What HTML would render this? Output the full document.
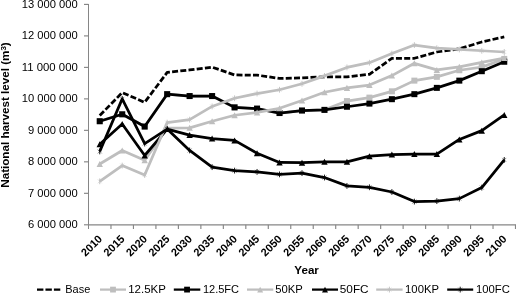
<!DOCTYPE html>
<html><head><meta charset="utf-8"><style>
html,body{margin:0;padding:0;background:#fff;}
body{width:516px;height:293px;overflow:hidden;}
svg{display:block;will-change:transform;}
text{font-family:"Liberation Sans",sans-serif;fill:#000;}
.yl{font-size:11px;}
.xl{font-size:11px;font-weight:bold;}
.t{font-size:11px;font-weight:bold;}
.lg{font-size:11px;}
</style></head><body>
<svg width="516" height="293" viewBox="0 0 516 293">
<g stroke="#868686" fill="none">
<line x1="88.5" y1="3.92" x2="88.5" y2="229" stroke-width="1" shape-rendering="crispEdges"/>
<line x1="84" y1="224.80" x2="88.5" y2="224.80" stroke-width="1.15"/>
<line x1="84" y1="193.32" x2="88.5" y2="193.32" stroke-width="1.15"/>
<line x1="84" y1="161.83" x2="88.5" y2="161.83" stroke-width="1.15"/>
<line x1="84" y1="130.35" x2="88.5" y2="130.35" stroke-width="1.15"/>
<line x1="84" y1="98.87" x2="88.5" y2="98.87" stroke-width="1.15"/>
<line x1="84" y1="67.39" x2="88.5" y2="67.39" stroke-width="1.15"/>
<line x1="84" y1="35.90" x2="88.5" y2="35.90" stroke-width="1.15"/>
<line x1="84" y1="4.42" x2="88.5" y2="4.42" stroke-width="1.15"/>
<line x1="88.5" y1="224.80" x2="516.0" y2="224.80" stroke-width="1.3"/>
<line x1="110.97" y1="224.80" x2="110.97" y2="229" stroke-width="1.15"/>
<line x1="133.45" y1="224.80" x2="133.45" y2="229" stroke-width="1.15"/>
<line x1="155.92" y1="224.80" x2="155.92" y2="229" stroke-width="1.15"/>
<line x1="178.39" y1="224.80" x2="178.39" y2="229" stroke-width="1.15"/>
<line x1="200.87" y1="224.80" x2="200.87" y2="229" stroke-width="1.15"/>
<line x1="223.34" y1="224.80" x2="223.34" y2="229" stroke-width="1.15"/>
<line x1="245.82" y1="224.80" x2="245.82" y2="229" stroke-width="1.15"/>
<line x1="268.29" y1="224.80" x2="268.29" y2="229" stroke-width="1.15"/>
<line x1="290.76" y1="224.80" x2="290.76" y2="229" stroke-width="1.15"/>
<line x1="313.24" y1="224.80" x2="313.24" y2="229" stroke-width="1.15"/>
<line x1="335.71" y1="224.80" x2="335.71" y2="229" stroke-width="1.15"/>
<line x1="358.18" y1="224.80" x2="358.18" y2="229" stroke-width="1.15"/>
<line x1="380.66" y1="224.80" x2="380.66" y2="229" stroke-width="1.15"/>
<line x1="403.13" y1="224.80" x2="403.13" y2="229" stroke-width="1.15"/>
<line x1="425.61" y1="224.80" x2="425.61" y2="229" stroke-width="1.15"/>
<line x1="448.08" y1="224.80" x2="448.08" y2="229" stroke-width="1.15"/>
<line x1="470.55" y1="224.80" x2="470.55" y2="229" stroke-width="1.15"/>
<line x1="493.03" y1="224.80" x2="493.03" y2="229" stroke-width="1.15"/>
<line x1="515.50" y1="224.80" x2="515.50" y2="229" stroke-width="1.15"/>
</g>
<text x="77.8" y="228.48" text-anchor="end" class="yl" textLength="49.8" lengthAdjust="spacingAndGlyphs">6 000 000</text>
<text x="77.8" y="196.94" text-anchor="end" class="yl" textLength="49.8" lengthAdjust="spacingAndGlyphs">7 000 000</text>
<text x="77.8" y="165.40" text-anchor="end" class="yl" textLength="49.8" lengthAdjust="spacingAndGlyphs">8 000 000</text>
<text x="77.8" y="133.86" text-anchor="end" class="yl" textLength="49.8" lengthAdjust="spacingAndGlyphs">9 000 000</text>
<text x="77.8" y="102.32" text-anchor="end" class="yl" textLength="56" lengthAdjust="spacingAndGlyphs">10 000 000</text>
<text x="77.8" y="70.78" text-anchor="end" class="yl" textLength="56" lengthAdjust="spacingAndGlyphs">11 000 000</text>
<text x="77.8" y="39.24" text-anchor="end" class="yl" textLength="56" lengthAdjust="spacingAndGlyphs">12 000 000</text>
<text x="77.8" y="7.70" text-anchor="end" class="yl" textLength="56" lengthAdjust="spacingAndGlyphs">13 000 000</text>
<text transform="translate(97.94,234.7) rotate(-45)" text-anchor="end" class="xl" x="0" y="7">2010</text>
<text transform="translate(120.41,234.7) rotate(-45)" text-anchor="end" class="xl" x="0" y="7">2015</text>
<text transform="translate(142.88,234.7) rotate(-45)" text-anchor="end" class="xl" x="0" y="7">2020</text>
<text transform="translate(165.36,234.7) rotate(-45)" text-anchor="end" class="xl" x="0" y="7">2025</text>
<text transform="translate(187.83,234.7) rotate(-45)" text-anchor="end" class="xl" x="0" y="7">2030</text>
<text transform="translate(210.31,234.7) rotate(-45)" text-anchor="end" class="xl" x="0" y="7">2035</text>
<text transform="translate(232.78,234.7) rotate(-45)" text-anchor="end" class="xl" x="0" y="7">2040</text>
<text transform="translate(255.25,234.7) rotate(-45)" text-anchor="end" class="xl" x="0" y="7">2045</text>
<text transform="translate(277.73,234.7) rotate(-45)" text-anchor="end" class="xl" x="0" y="7">2050</text>
<text transform="translate(300.20,234.7) rotate(-45)" text-anchor="end" class="xl" x="0" y="7">2055</text>
<text transform="translate(322.67,234.7) rotate(-45)" text-anchor="end" class="xl" x="0" y="7">2060</text>
<text transform="translate(345.15,234.7) rotate(-45)" text-anchor="end" class="xl" x="0" y="7">2065</text>
<text transform="translate(367.62,234.7) rotate(-45)" text-anchor="end" class="xl" x="0" y="7">2070</text>
<text transform="translate(390.09,234.7) rotate(-45)" text-anchor="end" class="xl" x="0" y="7">2075</text>
<text transform="translate(412.57,234.7) rotate(-45)" text-anchor="end" class="xl" x="0" y="7">2080</text>
<text transform="translate(435.04,234.7) rotate(-45)" text-anchor="end" class="xl" x="0" y="7">2085</text>
<text transform="translate(457.52,234.7) rotate(-45)" text-anchor="end" class="xl" x="0" y="7">2090</text>
<text transform="translate(479.99,234.7) rotate(-45)" text-anchor="end" class="xl" x="0" y="7">2095</text>
<text transform="translate(502.46,234.7) rotate(-45)" text-anchor="end" class="xl" x="0" y="7">2100</text>
<polyline points="99.74,115.55 122.21,92.59 144.68,102.34 167.16,72.45 189.63,69.94 212.11,67.11 234.58,74.97 257.05,75.13 279.53,78.43 302.00,77.80 324.47,76.86 346.95,76.86 369.42,74.34 391.89,58.30 414.37,58.30 436.84,52.00 459.32,48.86 481.79,41.94 504.26,36.90" fill="none" stroke="#000" stroke-width="2.75" stroke-linejoin="round" stroke-dasharray="6 2.25" stroke-dashoffset="0"/>
<polyline points="99.74,121.22 122.21,114.30 144.68,126.56 167.16,94.16 189.63,96.05 212.11,96.05 234.58,107.37 257.05,108.63 279.53,113.04 302.00,110.52 324.47,109.89 346.95,101.08 369.42,97.62 391.89,91.33 414.37,80.63 436.84,76.86 459.32,70.25 481.79,67.11 504.26,58.93" fill="none" stroke="#bebebe" stroke-width="2.75" stroke-linejoin="round"/><rect x="96.74" y="118.22" width="6" height="6" fill="#bebebe"/><rect x="119.21" y="111.30" width="6" height="6" fill="#bebebe"/><rect x="141.68" y="123.56" width="6" height="6" fill="#bebebe"/><rect x="164.16" y="91.16" width="6" height="6" fill="#bebebe"/><rect x="186.63" y="93.05" width="6" height="6" fill="#bebebe"/><rect x="209.11" y="93.05" width="6" height="6" fill="#bebebe"/><rect x="231.58" y="104.37" width="6" height="6" fill="#bebebe"/><rect x="254.05" y="105.63" width="6" height="6" fill="#bebebe"/><rect x="276.53" y="110.04" width="6" height="6" fill="#bebebe"/><rect x="299.00" y="107.52" width="6" height="6" fill="#bebebe"/><rect x="321.47" y="106.89" width="6" height="6" fill="#bebebe"/><rect x="343.95" y="98.08" width="6" height="6" fill="#bebebe"/><rect x="366.42" y="94.62" width="6" height="6" fill="#bebebe"/><rect x="388.89" y="88.33" width="6" height="6" fill="#bebebe"/><rect x="411.37" y="77.63" width="6" height="6" fill="#bebebe"/><rect x="433.84" y="73.86" width="6" height="6" fill="#bebebe"/><rect x="456.32" y="67.25" width="6" height="6" fill="#bebebe"/><rect x="478.79" y="64.11" width="6" height="6" fill="#bebebe"/><rect x="501.26" y="55.93" width="6" height="6" fill="#bebebe"/>
<polyline points="99.74,121.22 122.21,114.30 144.68,126.56 167.16,94.16 189.63,96.05 212.11,96.05 234.58,107.37 257.05,108.63 279.53,113.04 302.00,110.52 324.47,109.89 346.95,106.75 369.42,103.60 391.89,99.19 414.37,94.16 436.84,87.87 459.32,80.63 481.79,71.20 504.26,61.76" fill="none" stroke="#000" stroke-width="2.75" stroke-linejoin="round"/><rect x="96.74" y="118.22" width="6" height="6" fill="#000"/><rect x="119.21" y="111.30" width="6" height="6" fill="#000"/><rect x="141.68" y="123.56" width="6" height="6" fill="#000"/><rect x="164.16" y="91.16" width="6" height="6" fill="#000"/><rect x="186.63" y="93.05" width="6" height="6" fill="#000"/><rect x="209.11" y="93.05" width="6" height="6" fill="#000"/><rect x="231.58" y="104.37" width="6" height="6" fill="#000"/><rect x="254.05" y="105.63" width="6" height="6" fill="#000"/><rect x="276.53" y="110.04" width="6" height="6" fill="#000"/><rect x="299.00" y="107.52" width="6" height="6" fill="#000"/><rect x="321.47" y="106.89" width="6" height="6" fill="#000"/><rect x="343.95" y="103.75" width="6" height="6" fill="#000"/><rect x="366.42" y="100.60" width="6" height="6" fill="#000"/><rect x="388.89" y="96.19" width="6" height="6" fill="#000"/><rect x="411.37" y="91.16" width="6" height="6" fill="#000"/><rect x="433.84" y="84.87" width="6" height="6" fill="#000"/><rect x="456.32" y="77.63" width="6" height="6" fill="#000"/><rect x="478.79" y="68.20" width="6" height="6" fill="#000"/><rect x="501.26" y="58.76" width="6" height="6" fill="#000"/>
<polyline points="99.74,164.00 122.21,150.47 144.68,160.23 167.16,128.14 189.63,127.82 212.11,121.22 234.58,115.24 257.05,112.41 279.53,108.32 302.00,100.45 324.47,92.27 346.95,87.87 369.42,85.04 391.89,75.60 414.37,63.33 436.84,69.94 459.32,66.79 481.79,62.39 504.26,57.98" fill="none" stroke="#bebebe" stroke-width="2.75" stroke-linejoin="round"/><path d="M99.74,160.99L102.94,167.01L96.54,167.01Z" fill="#bebebe"/><path d="M122.21,147.47L125.41,153.48L119.01,153.48Z" fill="#bebebe"/><path d="M144.68,157.22L147.88,163.23L141.48,163.23Z" fill="#bebebe"/><path d="M167.16,125.13L170.36,131.15L163.96,131.15Z" fill="#bebebe"/><path d="M189.63,124.82L192.83,130.83L186.43,130.83Z" fill="#bebebe"/><path d="M212.11,118.21L215.31,124.22L208.91,124.22Z" fill="#bebebe"/><path d="M234.58,112.23L237.78,118.25L231.38,118.25Z" fill="#bebebe"/><path d="M257.05,109.40L260.25,115.42L253.85,115.42Z" fill="#bebebe"/><path d="M279.53,105.31L282.73,111.33L276.33,111.33Z" fill="#bebebe"/><path d="M302.00,97.45L305.20,103.46L298.80,103.46Z" fill="#bebebe"/><path d="M324.47,89.27L327.67,95.28L321.27,95.28Z" fill="#bebebe"/><path d="M346.95,84.86L350.15,90.88L343.75,90.88Z" fill="#bebebe"/><path d="M369.42,82.03L372.62,88.05L366.22,88.05Z" fill="#bebebe"/><path d="M391.89,72.59L395.09,78.61L388.69,78.61Z" fill="#bebebe"/><path d="M414.37,60.32L417.57,66.34L411.17,66.34Z" fill="#bebebe"/><path d="M436.84,66.93L440.04,72.94L433.64,72.94Z" fill="#bebebe"/><path d="M459.32,63.78L462.52,69.80L456.12,69.80Z" fill="#bebebe"/><path d="M481.79,59.38L484.99,65.39L478.59,65.39Z" fill="#bebebe"/><path d="M504.26,54.97L507.46,60.99L501.06,60.99Z" fill="#bebebe"/>
<polyline points="99.74,144.18 122.21,124.05 144.68,155.51 167.16,129.08 189.63,135.06 212.11,138.52 234.58,140.41 257.05,153.31 279.53,162.43 302.00,162.74 324.47,161.80 346.95,161.80 369.42,156.14 391.89,154.56 414.37,154.09 436.84,154.09 459.32,139.46 481.79,130.65 504.26,114.92" fill="none" stroke="#000" stroke-width="2.75" stroke-linejoin="round"/><path d="M99.74,141.17L102.94,147.19L96.54,147.19Z" fill="#000"/><path d="M122.21,121.04L125.41,127.06L119.01,127.06Z" fill="#000"/><path d="M144.68,152.50L147.88,158.52L141.48,158.52Z" fill="#000"/><path d="M167.16,126.07L170.36,132.09L163.96,132.09Z" fill="#000"/><path d="M189.63,132.05L192.83,138.07L186.43,138.07Z" fill="#000"/><path d="M212.11,135.51L215.31,141.53L208.91,141.53Z" fill="#000"/><path d="M234.58,137.40L237.78,143.42L231.38,143.42Z" fill="#000"/><path d="M257.05,150.30L260.25,156.31L253.85,156.31Z" fill="#000"/><path d="M279.53,159.42L282.73,165.44L276.33,165.44Z" fill="#000"/><path d="M302.00,159.74L305.20,165.75L298.80,165.75Z" fill="#000"/><path d="M324.47,158.79L327.67,164.81L321.27,164.81Z" fill="#000"/><path d="M346.95,158.79L350.15,164.81L343.75,164.81Z" fill="#000"/><path d="M369.42,153.13L372.62,159.15L366.22,159.15Z" fill="#000"/><path d="M391.89,151.56L395.09,157.57L388.69,157.57Z" fill="#000"/><path d="M414.37,151.08L417.57,157.10L411.17,157.10Z" fill="#000"/><path d="M436.84,151.08L440.04,157.10L433.64,157.10Z" fill="#000"/><path d="M459.32,136.46L462.52,142.47L456.12,142.47Z" fill="#000"/><path d="M481.79,127.65L484.99,133.66L478.59,133.66Z" fill="#000"/><path d="M504.26,111.92L507.46,117.93L501.06,117.93Z" fill="#000"/>
<polyline points="99.74,181.31 122.21,165.58 144.68,175.01 167.16,122.63 189.63,119.64 212.11,106.43 234.58,98.25 257.05,93.53 279.53,89.76 302.00,83.78 324.47,75.91 346.95,67.42 369.42,62.70 391.89,53.58 414.37,45.08 436.84,48.23 459.32,49.49 481.79,50.75 504.26,52.00" fill="none" stroke="#bebebe" stroke-width="2.75" stroke-linejoin="round"/><path d="M97.74,179.31L101.74,183.31M101.74,179.31L97.74,183.31" stroke="#bebebe" stroke-width="0.45" fill="none"/><path d="M99.74,178.41L99.74,184.21" stroke="#bebebe" stroke-width="0.9" fill="none"/><path d="M120.21,163.58L124.21,167.58M124.21,163.58L120.21,167.58" stroke="#bebebe" stroke-width="0.45" fill="none"/><path d="M122.21,162.68L122.21,168.48" stroke="#bebebe" stroke-width="0.9" fill="none"/><path d="M142.68,173.01L146.68,177.01M146.68,173.01L142.68,177.01" stroke="#bebebe" stroke-width="0.45" fill="none"/><path d="M144.68,172.11L144.68,177.91" stroke="#bebebe" stroke-width="0.9" fill="none"/><path d="M165.16,120.63L169.16,124.63M169.16,120.63L165.16,124.63" stroke="#bebebe" stroke-width="0.45" fill="none"/><path d="M167.16,119.73L167.16,125.53" stroke="#bebebe" stroke-width="0.9" fill="none"/><path d="M187.63,117.64L191.63,121.64M191.63,117.64L187.63,121.64" stroke="#bebebe" stroke-width="0.45" fill="none"/><path d="M189.63,116.74L189.63,122.54" stroke="#bebebe" stroke-width="0.9" fill="none"/><path d="M210.11,104.43L214.11,108.43M214.11,104.43L210.11,108.43" stroke="#bebebe" stroke-width="0.45" fill="none"/><path d="M212.11,103.53L212.11,109.33" stroke="#bebebe" stroke-width="0.9" fill="none"/><path d="M232.58,96.25L236.58,100.25M236.58,96.25L232.58,100.25" stroke="#bebebe" stroke-width="0.45" fill="none"/><path d="M234.58,95.35L234.58,101.15" stroke="#bebebe" stroke-width="0.9" fill="none"/><path d="M255.05,91.53L259.05,95.53M259.05,91.53L255.05,95.53" stroke="#bebebe" stroke-width="0.45" fill="none"/><path d="M257.05,90.63L257.05,96.43" stroke="#bebebe" stroke-width="0.9" fill="none"/><path d="M277.53,87.76L281.53,91.76M281.53,87.76L277.53,91.76" stroke="#bebebe" stroke-width="0.45" fill="none"/><path d="M279.53,86.86L279.53,92.66" stroke="#bebebe" stroke-width="0.9" fill="none"/><path d="M300.00,81.78L304.00,85.78M304.00,81.78L300.00,85.78" stroke="#bebebe" stroke-width="0.45" fill="none"/><path d="M302.00,80.88L302.00,86.68" stroke="#bebebe" stroke-width="0.9" fill="none"/><path d="M322.47,73.91L326.47,77.91M326.47,73.91L322.47,77.91" stroke="#bebebe" stroke-width="0.45" fill="none"/><path d="M324.47,73.01L324.47,78.81" stroke="#bebebe" stroke-width="0.9" fill="none"/><path d="M344.95,65.42L348.95,69.42M348.95,65.42L344.95,69.42" stroke="#bebebe" stroke-width="0.45" fill="none"/><path d="M346.95,64.52L346.95,70.32" stroke="#bebebe" stroke-width="0.9" fill="none"/><path d="M367.42,60.70L371.42,64.70M371.42,60.70L367.42,64.70" stroke="#bebebe" stroke-width="0.45" fill="none"/><path d="M369.42,59.80L369.42,65.60" stroke="#bebebe" stroke-width="0.9" fill="none"/><path d="M389.89,51.58L393.89,55.58M393.89,51.58L389.89,55.58" stroke="#bebebe" stroke-width="0.45" fill="none"/><path d="M391.89,50.68L391.89,56.48" stroke="#bebebe" stroke-width="0.9" fill="none"/><path d="M412.37,43.08L416.37,47.08M416.37,43.08L412.37,47.08" stroke="#bebebe" stroke-width="0.45" fill="none"/><path d="M414.37,42.18L414.37,47.98" stroke="#bebebe" stroke-width="0.9" fill="none"/><path d="M434.84,46.23L438.84,50.23M438.84,46.23L434.84,50.23" stroke="#bebebe" stroke-width="0.45" fill="none"/><path d="M436.84,45.33L436.84,51.13" stroke="#bebebe" stroke-width="0.9" fill="none"/><path d="M457.32,47.49L461.32,51.49M461.32,47.49L457.32,51.49" stroke="#bebebe" stroke-width="0.45" fill="none"/><path d="M459.32,46.59L459.32,52.39" stroke="#bebebe" stroke-width="0.9" fill="none"/><path d="M479.79,48.75L483.79,52.75M483.79,48.75L479.79,52.75" stroke="#bebebe" stroke-width="0.45" fill="none"/><path d="M481.79,47.85L481.79,53.65" stroke="#bebebe" stroke-width="0.9" fill="none"/><path d="M502.26,50.00L506.26,54.00M506.26,50.00L502.26,54.00" stroke="#bebebe" stroke-width="0.45" fill="none"/><path d="M504.26,49.10L504.26,54.90" stroke="#bebebe" stroke-width="0.9" fill="none"/>
<polyline points="99.74,151.42 122.21,98.88 144.68,143.55 167.16,129.08 189.63,150.47 212.11,167.15 234.58,170.61 257.05,171.87 279.53,174.38 302.00,173.13 324.47,177.53 346.95,185.87 369.42,187.28 391.89,192.00 414.37,201.60 436.84,201.12 459.32,198.61 481.79,187.60 504.26,159.91" fill="none" stroke="#000" stroke-width="2.75" stroke-linejoin="round"/><path d="M97.74,149.42L101.74,153.42M101.74,149.42L97.74,153.42" stroke="#000" stroke-width="0.45" fill="none"/><path d="M99.74,148.52L99.74,154.32" stroke="#000" stroke-width="0.9" fill="none"/><path d="M120.21,96.88L124.21,100.88M124.21,96.88L120.21,100.88" stroke="#000" stroke-width="0.45" fill="none"/><path d="M122.21,95.98L122.21,101.78" stroke="#000" stroke-width="0.9" fill="none"/><path d="M142.68,141.55L146.68,145.55M146.68,141.55L142.68,145.55" stroke="#000" stroke-width="0.45" fill="none"/><path d="M144.68,140.65L144.68,146.45" stroke="#000" stroke-width="0.9" fill="none"/><path d="M165.16,127.08L169.16,131.08M169.16,127.08L165.16,131.08" stroke="#000" stroke-width="0.45" fill="none"/><path d="M167.16,126.18L167.16,131.98" stroke="#000" stroke-width="0.9" fill="none"/><path d="M187.63,148.47L191.63,152.47M191.63,148.47L187.63,152.47" stroke="#000" stroke-width="0.45" fill="none"/><path d="M189.63,147.57L189.63,153.37" stroke="#000" stroke-width="0.9" fill="none"/><path d="M210.11,165.15L214.11,169.15M214.11,165.15L210.11,169.15" stroke="#000" stroke-width="0.45" fill="none"/><path d="M212.11,164.25L212.11,170.05" stroke="#000" stroke-width="0.9" fill="none"/><path d="M232.58,168.61L236.58,172.61M236.58,168.61L232.58,172.61" stroke="#000" stroke-width="0.45" fill="none"/><path d="M234.58,167.71L234.58,173.51" stroke="#000" stroke-width="0.9" fill="none"/><path d="M255.05,169.87L259.05,173.87M259.05,169.87L255.05,173.87" stroke="#000" stroke-width="0.45" fill="none"/><path d="M257.05,168.97L257.05,174.77" stroke="#000" stroke-width="0.9" fill="none"/><path d="M277.53,172.38L281.53,176.38M281.53,172.38L277.53,176.38" stroke="#000" stroke-width="0.45" fill="none"/><path d="M279.53,171.48L279.53,177.28" stroke="#000" stroke-width="0.9" fill="none"/><path d="M300.00,171.13L304.00,175.13M304.00,171.13L300.00,175.13" stroke="#000" stroke-width="0.45" fill="none"/><path d="M302.00,170.23L302.00,176.03" stroke="#000" stroke-width="0.9" fill="none"/><path d="M322.47,175.53L326.47,179.53M326.47,175.53L322.47,179.53" stroke="#000" stroke-width="0.45" fill="none"/><path d="M324.47,174.63L324.47,180.43" stroke="#000" stroke-width="0.9" fill="none"/><path d="M344.95,183.87L348.95,187.87M348.95,183.87L344.95,187.87" stroke="#000" stroke-width="0.45" fill="none"/><path d="M346.95,182.97L346.95,188.77" stroke="#000" stroke-width="0.9" fill="none"/><path d="M367.42,185.28L371.42,189.28M371.42,185.28L367.42,189.28" stroke="#000" stroke-width="0.45" fill="none"/><path d="M369.42,184.38L369.42,190.18" stroke="#000" stroke-width="0.9" fill="none"/><path d="M389.89,190.00L393.89,194.00M393.89,190.00L389.89,194.00" stroke="#000" stroke-width="0.45" fill="none"/><path d="M391.89,189.10L391.89,194.90" stroke="#000" stroke-width="0.9" fill="none"/><path d="M412.37,199.60L416.37,203.60M416.37,199.60L412.37,203.60" stroke="#000" stroke-width="0.45" fill="none"/><path d="M414.37,198.70L414.37,204.50" stroke="#000" stroke-width="0.9" fill="none"/><path d="M434.84,199.12L438.84,203.12M438.84,199.12L434.84,203.12" stroke="#000" stroke-width="0.45" fill="none"/><path d="M436.84,198.22L436.84,204.03" stroke="#000" stroke-width="0.9" fill="none"/><path d="M457.32,196.61L461.32,200.61M461.32,196.61L457.32,200.61" stroke="#000" stroke-width="0.45" fill="none"/><path d="M459.32,195.71L459.32,201.51" stroke="#000" stroke-width="0.9" fill="none"/><path d="M479.79,185.60L483.79,189.60M483.79,185.60L479.79,189.60" stroke="#000" stroke-width="0.45" fill="none"/><path d="M481.79,184.70L481.79,190.50" stroke="#000" stroke-width="0.9" fill="none"/><path d="M502.26,157.91L506.26,161.91M506.26,157.91L502.26,161.91" stroke="#000" stroke-width="0.45" fill="none"/><path d="M504.26,157.01L504.26,162.81" stroke="#000" stroke-width="0.9" fill="none"/>
<text x="294.3" y="273.6" class="t" textLength="24.6" lengthAdjust="spacingAndGlyphs">Year</text>
<text transform="translate(9.3,115) rotate(-90)" text-anchor="middle" class="t" textLength="145.5" lengthAdjust="spacingAndGlyphs">National harvest level (m<tspan dy="-3.5" font-size="7.5">3</tspan><tspan dy="3.5">)</tspan></text>
<line x1="37" y1="289.6" x2="60.3" y2="289.6" stroke="#000" stroke-width="2.25" stroke-dasharray="6.4 2.05"/><text x="65.3" y="293" class="lg" textLength="25.0" lengthAdjust="spacingAndGlyphs">Base</text>
<line x1="100" y1="289.6" x2="126" y2="289.6" stroke="#bebebe" stroke-width="2.25"/><rect x="110.10" y="286.70" width="5.8" height="5.8" fill="#bebebe"/><text x="128.2" y="293" class="lg" textLength="37.7" lengthAdjust="spacingAndGlyphs">12.5KP</text>
<line x1="173.8" y1="289.6" x2="200.3" y2="289.6" stroke="#000" stroke-width="2.25"/><rect x="184.15" y="286.70" width="5.8" height="5.8" fill="#000"/><text x="202.9" y="293" class="lg" textLength="36.2" lengthAdjust="spacingAndGlyphs">12.5FC</text>
<line x1="247" y1="289.6" x2="273.3" y2="289.6" stroke="#bebebe" stroke-width="2.25"/><path d="M260.15,286.78L263.15,292.42L257.15,292.42Z" fill="#bebebe"/><text x="275.2" y="293" class="lg" textLength="27.6" lengthAdjust="spacingAndGlyphs">50KP</text>
<line x1="312" y1="289.6" x2="338" y2="289.6" stroke="#000" stroke-width="2.25"/><path d="M325.00,286.78L328.00,292.42L322.00,292.42Z" fill="#000"/><text x="339.8" y="293" class="lg" textLength="28.8" lengthAdjust="spacingAndGlyphs">50FC</text>
<line x1="376.2" y1="289.6" x2="402.6" y2="289.6" stroke="#bebebe" stroke-width="2.25"/><path d="M387.40,287.60L391.40,291.60M391.40,287.60L387.40,291.60" stroke="#bebebe" stroke-width="0.45" fill="none"/><path d="M389.40,286.70L389.40,292.50" stroke="#bebebe" stroke-width="0.9" fill="none"/><text x="405.1" y="293" class="lg" textLength="33.9" lengthAdjust="spacingAndGlyphs">100KP</text>
<line x1="447.2" y1="289.6" x2="473.2" y2="289.6" stroke="#000" stroke-width="2.25"/><path d="M458.20,287.60L462.20,291.60M462.20,287.60L458.20,291.60" stroke="#000" stroke-width="0.45" fill="none"/><path d="M460.20,286.70L460.20,292.50" stroke="#000" stroke-width="0.9" fill="none"/><text x="476.0" y="293" class="lg" textLength="33.8" lengthAdjust="spacingAndGlyphs">100FC</text>
</svg>
</body></html>
